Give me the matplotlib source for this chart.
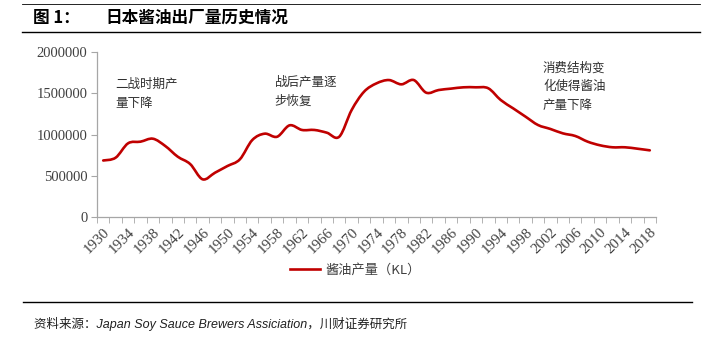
import numpy as np
import matplotlib
matplotlib.use('Agg')
import matplotlib.pyplot as plt
from matplotlib.path import Path
from matplotlib.patches import PathPatch
from matplotlib.lines import Line2D

plt.rcParams['font.family'] = ['Noto Sans CJK SC', 'DejaVu Sans']
plt.rcParams['axes.unicode_minus'] = False

# 数据：日本酱油出厂量（KL），每两年一个点
years = list(range(1930, 2019, 2))
output = [685000, 719000, 893000, 913000, 949000, 860000, 731000, 642000,
          457000, 537000, 618000, 699000, 933000, 1010000, 973000, 1111000,
          1055000, 1055000, 1022000, 973000, 1297000, 1519000, 1620000, 1660000,
          1608000, 1660000, 1507000, 1539000, 1556000, 1572000, 1572000, 1560000,
          1418000, 1317000, 1216000, 1115000, 1067000, 1014000, 982000, 913000,
          869000, 845000, 845000, 828000, 808000]
yticks = [0, 500000, 1000000, 1500000, 2000000]
notes = [(1.0, 1680000, '二战时期产\n量下降'),
         (13.8, 1710000, '战后产量逐\n步恢复'),
         (35.4, 1880000, '消费结构变\n化使得酱油\n产量下降')]

red = '#C00000'
axis_gray = '#A6A6A6'
txt = '#404040'

fig = plt.figure(figsize=(7.10, 3.41), dpi=100)
ax = fig.add_axes([97 / 710, 1 - 217 / 341, 559 / 710, 165 / 341])

# 平滑曲线（类似Excel的平滑线）
x = np.arange(len(years), dtype=float)
y = np.array(output, dtype=float)
verts = [(x[0], y[0])]
codes = [Path.MOVETO]
for i in range(len(x) - 1):
    p0 = (x[max(i - 1, 0)], y[max(i - 1, 0)])
    p1 = (x[i], y[i])
    p2 = (x[i + 1], y[i + 1])
    p3 = (x[min(i + 2, len(x) - 1)], y[min(i + 2, len(x) - 1)])
    c1 = (p1[0] + (p2[0] - p0[0]) / 6, p1[1] + (p2[1] - p0[1]) / 6)
    c2 = (p2[0] - (p3[0] - p1[0]) / 6, p2[1] - (p3[1] - p1[1]) / 6)
    verts += [c1, c2, p2]
    codes += [Path.CURVE4] * 3
ax.add_patch(PathPatch(Path(verts, codes), fill=False, edgecolor=red,
                       linewidth=1.9, capstyle='round', joinstyle='round'))

ax.set_xlim(-0.5, len(years) - 0.5)
ax.set_ylim(0, 2000000)

for s in ['top', 'right']:
    ax.spines[s].set_visible(False)
for s in ['left', 'bottom']:
    ax.spines[s].set_color(axis_gray)
    ax.spines[s].set_linewidth(0.9)

ax.set_yticks(yticks)
ax.set_yticklabels([str(v) for v in yticks], family='Liberation Serif',
                   fontsize=10.5, color=txt)
ax.tick_params(axis='y', direction='out', length=4, color=axis_gray, pad=3)

ax.set_xticks(x[::2])
ax.set_xticklabels([str(v) for v in years[::2]], family='Liberation Serif',
                   fontsize=10.8, color=txt, rotation=45, ha='right',
                   rotation_mode='anchor')
ax.set_xticks(np.arange(-0.5, len(years), 1), minor=True)
ax.tick_params(axis='x', which='major', length=0, pad=6)
ax.tick_params(axis='x', which='minor', direction='out', length=4,
               color=axis_gray)

for nx, ny, s in notes:
    ax.text(nx, ny, s, fontsize=9, color='#303030', va='top', ha='left',
            linespacing=1.55)

fig.legend(handles=[Line2D([], [], color=red, linewidth=1.9)],
           labels=['酱油产量（KL）'], loc='center',
           bbox_to_anchor=(0.5, 1 - 270 / 341), frameon=False,
           prop={'size': 9.5}, handlelength=2.3, handletextpad=0.4,
           labelcolor=txt)

# 标题与边框线
fig.text(33 / 710, 1 - 18 / 341, '图 1：', fontsize=12, fontweight='bold',
         va='center', ha='left')
fig.text(105 / 710, 1 - 18 / 341, '日本酱油出厂量历史情况', fontsize=12,
         fontweight='bold', va='center', ha='left')
fig.add_artist(Line2D([22 / 710, 700 / 710], [1 - 4 / 341] * 2,
                      color='black', linewidth=0.6))
fig.add_artist(Line2D([22 / 710, 700 / 710], [1 - 32 / 341] * 2,
                      color='black', linewidth=1.0))
fig.add_artist(Line2D([23 / 710, 692 / 710], [1 - 302 / 341] * 2,
                      color='black', linewidth=1.0))
fig.text(34 / 710, 1 - 324 / 341,
         '资料来源：Japan Soy Sauce Brewers Assiciation，川财证券研究所',
         fontsize=9, style='italic', va='center', ha='left',
         family=['Liberation Sans', 'Noto Sans CJK SC'], color='#202020')

fig.savefig('out.png', dpi=100)
